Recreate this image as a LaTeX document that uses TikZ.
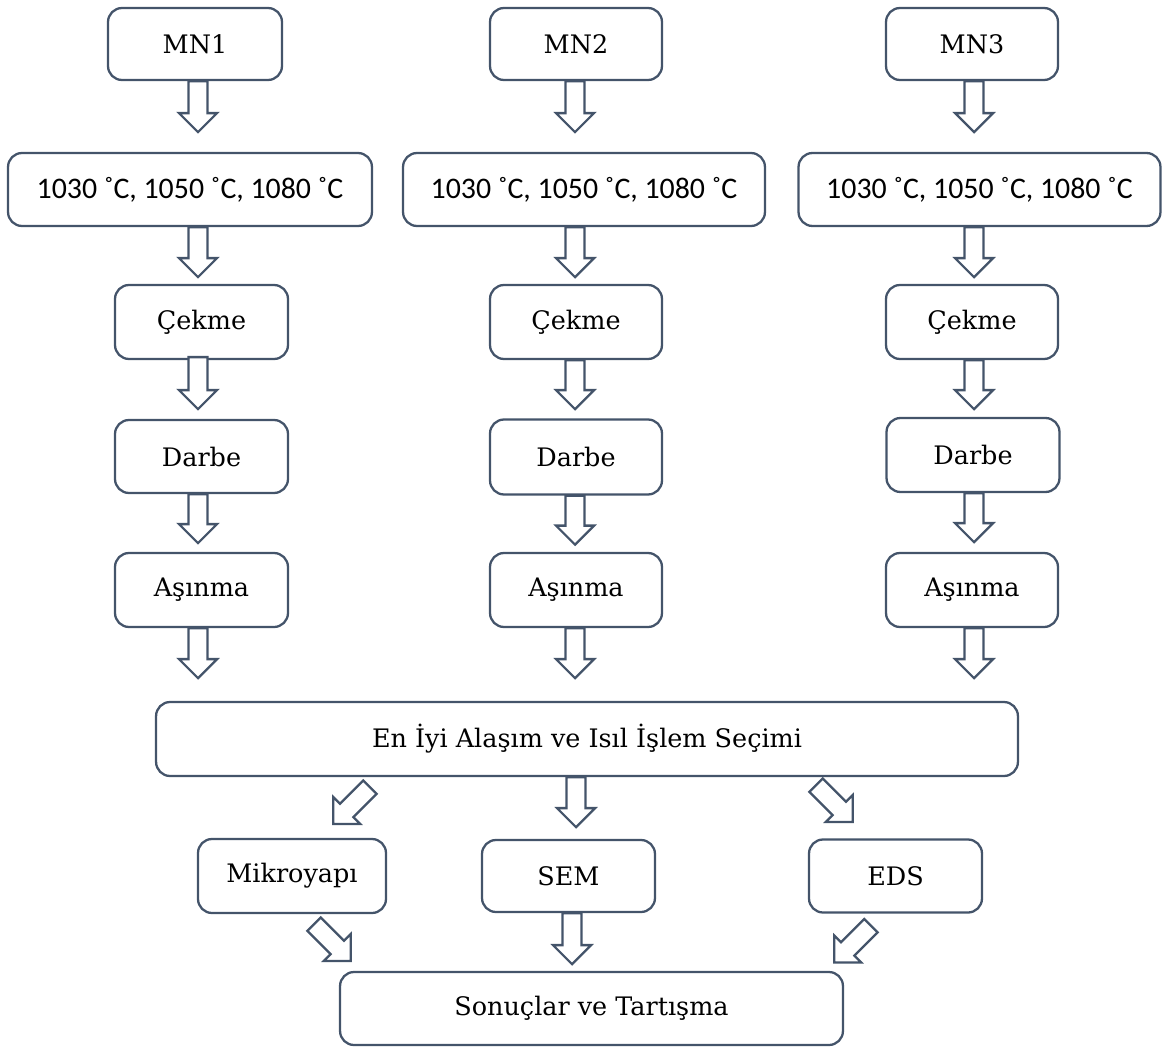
\documentclass[tikz,border=0pt]{standalone}
\usepackage{fontspec}
\setmainfont{DejaVu Serif}
\newfontfamily\tempfont{Carlito}
\usetikzlibrary{calc}
\definecolor{edge}{HTML}{44546A}
\tikzset{
  stepbox/.style={draw=edge, line width=1.3pt, rounded corners=0.28cm, fill=white,
    align=center, text=black, inner sep=0pt, font=\fontsize{14.5}{16}\selectfont},
  tempbox/.style={stepbox, font=\tempfont\fontsize{17}{19}\selectfont},
  blockarrow/.style={draw=edge, line width=1.3pt, fill=white, line join=miter},
}
% temperature list in the heat treatment boxes
\newcommand\templist{1030 ˚C, 1050 ˚C, 1080 ˚C}
% hollow block arrow: #1 start, #2 point it aims at, #3 length
\newcommand\flowarrow[3]{%
  \coordinate (fa-a) at (#1);
  \coordinate (fa-t) at (#2);
  \coordinate (fa-b) at ($(fa-a)!#3!(fa-t)$);
  \coordinate (fa-c) at ($(fa-b)!0.38cm!(fa-a)$);
  \draw[blockarrow] ($(fa-a)!0.19cm!90:(fa-t)$) -- ($(fa-c)!0.19cm!90:(fa-b)$)
    -- ($(fa-c)!0.38cm!90:(fa-b)$) -- (fa-b) -- ($(fa-c)!0.38cm!-90:(fa-b)$)
    -- ($(fa-c)!0.19cm!-90:(fa-b)$) -- ($(fa-a)!0.19cm!-90:(fa-t)$) -- cycle;
}
\begin{document}
\begin{tikzpicture}[x=0.02cm, y=-0.02cm]
\useasboundingbox (0,0) rectangle (1163,1048);

% alloy boxes
\node[stepbox, minimum width=3.48cm, minimum height=1.44cm] (m1) at (195,44) {MN1};
\node[stepbox, minimum width=3.44cm, minimum height=1.44cm] (m2) at (576,44) {MN2};
\node[stepbox, minimum width=3.44cm, minimum height=1.44cm] (m3) at (972,44) {MN3};

% heat treatment temperatures
\node[tempbox, minimum width=7.28cm, minimum height=1.46cm] (t1) at (190,189.5) {\templist};
\node[tempbox, minimum width=7.24cm, minimum height=1.46cm] (t2) at (584,189.5) {\templist};
\node[tempbox, minimum width=7.24cm, minimum height=1.46cm] (t3) at (979.5,189.5) {\templist};

% tests
\node[stepbox, minimum width=3.46cm, minimum height=1.48cm] (c1) at (201.5,322) {Çekme};
\node[stepbox, minimum width=3.44cm, minimum height=1.48cm] (c2) at (576,322) {Çekme};
\node[stepbox, minimum width=3.44cm, minimum height=1.48cm] (c3) at (972,322) {Çekme};

\node[stepbox, minimum width=3.46cm, minimum height=1.46cm] (d1) at (201.5,456.5) {Darbe};
\node[stepbox, minimum width=3.44cm, minimum height=1.50cm] (d2) at (576,457) {Darbe};
\node[stepbox, minimum width=3.46cm, minimum height=1.48cm] (d3) at (973,455) {Darbe};

\node[stepbox, minimum width=3.46cm, minimum height=1.48cm] (a1) at (201.5,590) {Aşınma};
\node[stepbox, minimum width=3.44cm, minimum height=1.48cm] (a2) at (576,590) {Aşınma};
\node[stepbox, minimum width=3.44cm, minimum height=1.48cm] (a3) at (972,590) {Aşınma};

% selection and analyses
\node[stepbox, minimum width=17.24cm, minimum height=1.48cm] (best) at (587,739) {En İyi Alaşım ve Isıl İşlem Seçimi};
\node[stepbox, minimum width=3.76cm, minimum height=1.48cm] (mik) at (292,876) {Mikroyapı};
\node[stepbox, minimum width=3.46cm, minimum height=1.44cm] (sem) at (568.5,876) {SEM};
\node[stepbox, minimum width=3.46cm, minimum height=1.46cm] (eds) at (895.5,876) {EDS};
\node[stepbox, minimum width=10.06cm, minimum height=1.46cm] (res) at (591.5,1008.5) {Sonuçlar ve Tartışma};

% arrow columns
\coordinate (x1) at (198,0);
\coordinate (x2) at (575,0);
\coordinate (x3) at (974,0);
\coordinate (xs) at (576,0);
\coordinate (xr) at (572,0);

\foreach \k in {1,2,3}{
  \flowarrow{x\k |- m\k.south}{x\k |- t\k.north}{1.02cm}
  \flowarrow{x\k |- t\k.south}{x\k |- c\k.north}{1.0cm}
  \flowarrow{x\k |- d\k.south}{x\k |- a\k.north}{0.98cm}
  \flowarrow{x\k |- a\k.south}{x\k |- best.north}{1.0cm}
}
\coordinate (c1top) at ($(x1 |- c1.south)+(0,-3)$);
\flowarrow{c1top}{x1 |- d1.north}{1.04cm}
\flowarrow{x2 |- c2.south}{x2 |- d2.north}{0.98cm}
\flowarrow{x3 |- c3.south}{x3 |- d3.north}{0.98cm}

\flowarrow{xs |- best.south}{xs |- sem.north}{1.0cm}
\flowarrow{xr |- sem.south}{xr |- res.north}{1.02cm}

% diagonal arrows
\coordinate (dl) at ($(best.south)+(-217,10)$);
\coordinate (dlt) at ($(dl)+(-37,37)$);
\flowarrow{dl}{dlt}{1.04cm}
\coordinate (dr) at ($(best.south)+(229,8)$);
\coordinate (drt) at ($(dr)+(37,37)$);
\flowarrow{dr}{drt}{1.04cm}
\coordinate (bl) at ($(mik.south)+(22,10)$);
\coordinate (blt) at ($(bl)+(37,37)$);
\flowarrow{bl}{blt}{1.04cm}
\coordinate (br) at ($(eds.south)+(-24.5,12)$);
\coordinate (brt) at ($(br)+(-37,37)$);
\flowarrow{br}{brt}{1.04cm}
\end{tikzpicture}
\end{document}
